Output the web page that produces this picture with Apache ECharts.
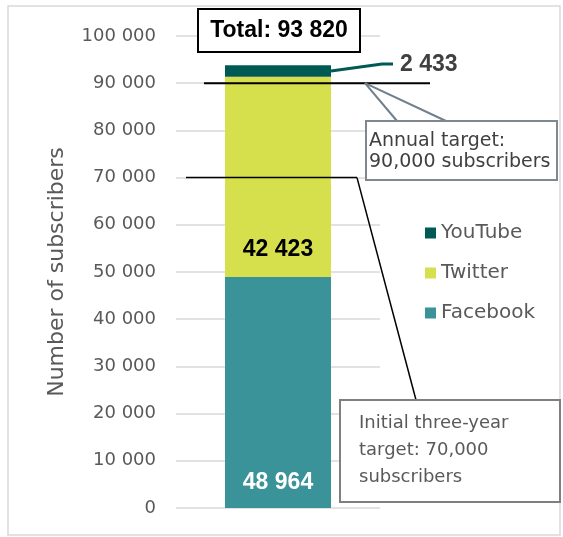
<!DOCTYPE html>
<html>
<head>
<meta charset="utf-8">
<script src="https://cdn.jsdelivr.net/npm/echarts@6/dist/echarts.min.js"></script>
<style>
html,body{margin:0;padding:0;background:#fff;}
#c{width:563px;height:537px;}
</style>
</head>
<body>
<div id="c"></div>
<script>
var categories = ['Subscribers'];
var facebook = [48964];
var twitter = [42423];
var youtube = [2433];
var yTicks = [0, 10000, 20000, 30000, 40000, 50000, 60000, 70000, 80000, 90000, 100000];
var annualTarget = 90000;
var initialTarget = 70000;

var FONT = 'DejaVu Sans';
var BOLD = 'Liberation Sans';
function fmt(v){ return String(v).replace(/\B(?=(\d{3})+(?!\d))/g, ' '); }
var total = facebook[0] + twitter[0] + youtube[0];

var chart = echarts.init(document.getElementById('c'), null, {renderer:'canvas'});
chart.setOption({
  animation:false,
  backgroundColor:'#fff',
  grid:{left:176, right:183, top:36, bottom:29},
  legend:{
    orient:'vertical', left:420, top:218, itemWidth:11, itemHeight:11, itemGap:20,
    icon:'rect',
    data:['YouTube','Twitter','Facebook'],
    textStyle:{fontFamily:FONT, fontSize:20, color:'#595959', lineHeight:20}
  },
  xAxis:{
    type:'category', data:categories,
    axisLine:{show:false}, axisTick:{show:false}, axisLabel:{show:false}
  },
  yAxis:{
    type:'value', min:yTicks[0], max:yTicks[yTicks.length-1], interval:yTicks[1]-yTicks[0],
    name:'Number of subscribers', nameLocation:'middle', nameGap:108,
    nameTextStyle:{fontFamily:FONT, fontSize:22, color:'#595959'},
    axisLine:{show:false}, axisTick:{show:false},
    axisLabel:{fontFamily:FONT, fontSize:18, color:'#595959', margin:20, formatter:function(v){return fmt(v);}},
    splitLine:{lineStyle:{color:'#d9d9d9', width:1.5}}
  },
  series:[
    {name:'Facebook', type:'bar', stack:'s', data:facebook, barWidth:106,
     itemStyle:{color:'#3a9399'},
     label:{show:true, position:'insideBottom', distance:14, formatter:function(p){return fmt(p.value);},
       fontFamily:BOLD, fontWeight:'bold', fontSize:23, color:'#ffffff'}},
    {name:'Twitter', type:'bar', stack:'s', data:twitter, barWidth:106,
     itemStyle:{color:'#d5e04c'},
     label:{show:true, position:'insideBottom', distance:16, formatter:function(p){return fmt(p.value);},
       fontFamily:BOLD, fontWeight:'bold', fontSize:23, color:'#000000'}},
    {name:'YouTube', type:'bar', stack:'s', data:youtube, barWidth:106,
     itemStyle:{color:'#005a54'}}
  ]
});

var yA = chart.convertToPixel({yAxisIndex:0}, annualTarget);
var yI = chart.convertToPixel({yAxisIndex:0}, initialTarget);
var yTop = chart.convertToPixel({yAxisIndex:0}, total);
var yTw = chart.convertToPixel({yAxisIndex:0}, facebook[0] + twitter[0]);
var yYt = (yTop + yTw) / 2;

chart.setOption({
  graphic:[
    {type:'rect', shape:{x:8, y:6, width:552, height:529}, style:{fill:'none', stroke:'#d9d9d9', lineWidth:1.5}, z:0, silent:true},
    // total box
    {type:'rect', shape:{x:198, y:9, width:162, height:43}, style:{fill:'#fff', stroke:'#000', lineWidth:2}, z:100},
    {type:'text', x:279, y:31, style:{text:'Total: ' + fmt(total), font:'bold 23px "Liberation Sans"', fill:'#000', align:'center', verticalAlign:'middle'}, z:101},
    // youtube label
    {type:'polyline', shape:{points:[[331, yYt],[382, yYt-7],[393, yYt-7]]}, style:{stroke:'#005a54', lineWidth:3, fill:'none'}, z:100},
    {type:'text', x:400, y:yYt-6, style:{text:fmt(youtube[0]), font:'bold 23px "Liberation Sans"', fill:'#404040', align:'left', verticalAlign:'middle'}, z:101},
    // target lines
    {type:'line', shape:{x1:204, y1:yA, x2:430, y2:yA}, style:{stroke:'#000', lineWidth:2}, z:100},
    {type:'line', shape:{x1:186, y1:yI, x2:357, y2:yI}, style:{stroke:'#000', lineWidth:1.5}, z:100},
    // annual callout
    {type:'line', shape:{x1:365, y1:yA, x2:397, y2:121}, style:{stroke:'#6f7f8c', lineWidth:2}, z:100},
    {type:'line', shape:{x1:365, y1:yA, x2:446, y2:121}, style:{stroke:'#6f7f8c', lineWidth:2}, z:100},
    {type:'rect', shape:{x:366, y:121, width:191, height:59}, style:{fill:'#fff', stroke:'#7f8890', lineWidth:2}, z:102},
    {type:'text', x:369, y:152, style:{text:'Annual target:\n90,000 subscribers', font:'19px "DejaVu Sans"', lineHeight:21, fill:'#404040', align:'left', verticalAlign:'middle'}, z:103},
    // initial callout
    {type:'line', shape:{x1:357, y1:yI, x2:416, y2:400}, style:{stroke:'#000', lineWidth:1.5}, z:100},
    {type:'rect', shape:{x:340, y:400, width:220, height:102}, style:{fill:'#fff', stroke:'#7f7f7f', lineWidth:2}, z:102},
    {type:'text', x:359, y:450, style:{text:'Initial three-year\ntarget: 70,000\nsubscribers', font:'18px "DejaVu Sans"', lineHeight:27, fill:'#595959', align:'left', verticalAlign:'middle'}, z:103}
  ]
});
</script>
</body>
</html>
